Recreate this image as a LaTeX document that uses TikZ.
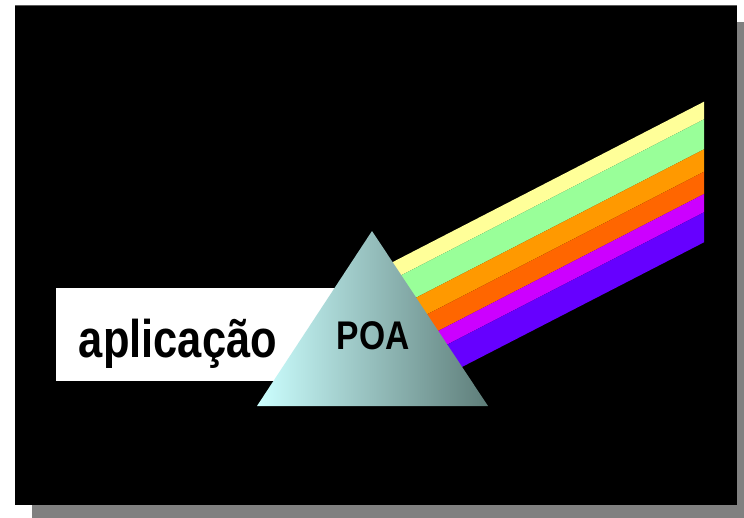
\documentclass[tikz,border=0pt]{standalone}
\usepackage{fontspec}
\setmainfont{Liberation Sans}
\usepackage{graphicx}
\begin{document}
\begin{tikzpicture}[x=1pt,y=-1pt,
  label text/.style={inner sep=0pt, anchor=base, text=black},
  band/.style={draw=none}]
\definecolor{shadowgray}{RGB}{128,128,128}
\definecolor{prismlight}{RGB}{204,255,255}
\definecolor{prismdark}{RGB}{94,125,121}
\definecolor{bandyellow}{RGB}{255,255,153}
\definecolor{bandgreen}{RGB}{153,255,153}
\definecolor{bandorange}{RGB}{255,153,0}
\definecolor{bandred}{RGB}{255,102,0}
\definecolor{bandmagenta}{RGB}{204,0,255}
\definecolor{bandviolet}{RGB}{102,0,255}
\useasboundingbox (0,0) rectangle (744,517);
\fill[white] (0,0) rectangle (744,517);
% slide with drop shadow
\fill[shadowgray] (32,22) rectangle (760,530);
\fill[black] (15,5) rectangle (737,505);
\draw[gray!70!black, line width=0.8pt] (15,5) -- (737,5);
% white label bar behind the prism
\fill[white] (56,288) rectangle (360,381) node (bar) {};
% spectrum bands leaving the prism's right face
\begin{scope}
  \clip (368,231) -- (484,406) -- (744,406) -- (744,0) -- (368,0) -- cycle;
  \foreach \ya/\yb/\col in {101.7/119.3/bandyellow, 119.3/149.3/bandgreen,
      149.3/171.7/bandorange, 171.7/194/bandred, 194/212.3/bandmagenta,
      212.3/242.3/bandviolet}{
    \fill[band, \col] (704,\ya) -- (704,\yb) -- (360,\yb+177.2) -- (360,\ya+177.2) -- cycle;
  }
\end{scope}
% prism
\path[left color=prismlight, right color=prismdark]
  (257,406) coordinate (pl) -- (488,406) coordinate (pr) -- (372,231) coordinate (pt) -- cycle;
% texts
\node[label text] (app) at (178,357)
  {\scalebox{0.82}[1]{\fontsize{53}{53}\selectfont\bfseries aplicação}};
\node[label text] (poa) at (373,349.3)
  {\scalebox{0.84}[1]{\fontsize{40}{40}\selectfont\bfseries POA}};
\end{tikzpicture}
\end{document}
